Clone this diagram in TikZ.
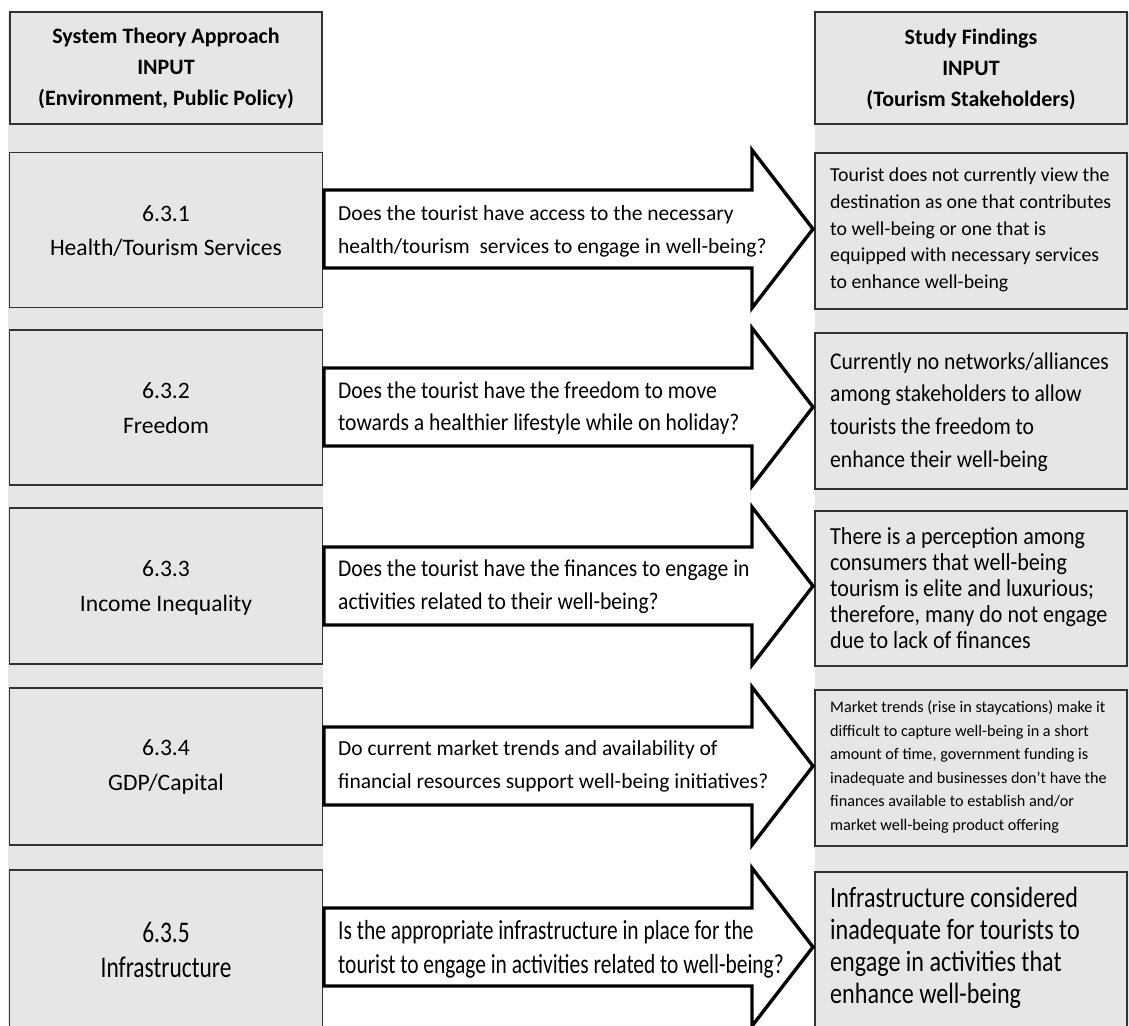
\documentclass[tikz,border=0pt]{standalone}
\usepackage{fontspec}
\setmainfont{Carlito}
\newfontfamily\semifont{Carlito}[FakeStretch=0.9]
\newfontfamily\narrowfont{Carlito}[FakeStretch=0.82]
\newfontfamily\tightfont{Carlito}[FakeStretch=0.78]
\definecolor{panel}{HTML}{E6E6E6}
\definecolor{edge}{HTML}{333333}
\newcommand{\fs}[2]{\fontsize{#1}{#2}\selectfont}

\begin{document}
\begin{tikzpicture}[x=1pt,y=-1pt,
  strip/.style={fill=panel, draw=none},
  box/.style={fill=panel, draw=edge, line width=1.4pt, inner sep=0pt},
  blockarrow/.style={fill=white, draw=black, line width=3.4pt, line join=miter},
  headtext/.style={align=center, font=\bfseries\fs{22}{31}},
  itemtext/.style={align=center, font=\fs{23.6}{34.5}},
  qtext/.style={anchor=west, align=left, inner sep=0pt},
  ftext/.style={anchor=west, align=left, inner sep=0pt}]

\useasboundingbox (0,0) rectangle (1129,1025);
\fill[white] (0,0) rectangle (1129,1025);

% grey column strips
\path[strip] (8,12) rectangle (323,1025);
\path[strip] (815,12) rectangle (1129,1025);

% column headers
\node[box, minimum width=312, minimum height=112] (hl) at (166,68) {};
\node[headtext] (hlt) at ([yshift=-1]hl.center) {System Theory Approach\\INPUT\\(Environment, Public Policy)};
\node[box, minimum width=312, minimum height=112] (hr) at (971,68) {};
\node[headtext] (hrt) at ([yshift=-1]hr.center) {Study Findings\\INPUT\\(Tourism Stakeholders)};

% left: system theory categories
\node[box, minimum width=313, minimum height=155] (l1) at (166,230) {};
\node[box, minimum width=313, minimum height=155] (l2) at (166,407.5) {};
\node[box, minimum width=313, minimum height=156] (l3) at (166,586) {};
\node[box, minimum width=313, minimum height=157] (l4) at (166,766.5) {};
\node[box, minimum width=313, minimum height=170] (l5) at (166,955) {};
\node[itemtext] (l1t) at (166,231) {6.3.1\\Health/Tourism Services};
\node[itemtext] (l2t) at (166,408) {6.3.2\\Freedom};
\node[itemtext] (l3t) at (166,588) {6.3.3\\Income Inequality};
\node[itemtext] (l4t) at (166,767) {6.3.4\\GDP/Capital};
\node[itemtext, font=\tightfont\fs{30}{35}] (l5t) at (166,950) {6.3.5\\Infrastructure};

% right: study findings
\node[box, minimum width=312, minimum height=156] (r1) at (971,231) {};
\node[box, minimum width=312, minimum height=156] (r2) at (971,411) {};
\node[box, minimum width=312, minimum height=155] (r3) at (971,588.5) {};
\node[box, minimum width=312, minimum height=156] (r4) at (971,768) {};
\node[box, minimum width=312, minimum height=170] (r5) at (971,957) {};

% block arrows from category to finding
\foreach \cy in {229,407,586,766,947}{
  \draw[blockarrow] (324,\cy-39) -- (752,\cy-39) -- (752,\cy-79) -- (813,\cy)
    -- (752,\cy+79) -- (752,\cy+39) -- (324,\cy+39) -- cycle;
}

% questions inside the arrows
\node[qtext, font=\fs{21.5}{33}] (q1) at (338,231) {Does the tourist have access to the necessary\\health/tourism\ \ services to engage in well-being?};
\node[qtext, font=\semifont\fs{24}{32.5}] (q2) at (338,408) {Does the tourist have the freedom\ to move\\towards a healthier\ lifestyle while on holiday?};
\node[qtext, font=\semifont\fs{24}{33}] (q3) at (338,587) {Does the tourist have the finances to engage in\\activities related\ to their well-being?};
\node[qtext, font=\fs{21.5}{33}] (q4) at (338,766) {Do current\ market\ trends\ and availability of\\financial resources\ support\ well-being\ initiatives?};
\node[qtext, font=\tightfont\fs{27.5}{34}] (q5) at (338,949) {Is the appropriate\ infrastructure\ in place for the\\tourist to engage in activities related to well-being?};

% findings text
\node[ftext, font=\fs{19.8}{26.8}] (f1) at (830,230) {Tourist does not currently view the\\destination as one that contributes\\to\ well-being or one that is\\equipped with necessary services\\to enhance well-being};
\node[ftext, font=\semifont\fs{24}{32.7}] (f2) at (830,412) {Currently\ no networks/alliances\\among stakeholders to allow\\tourists the freedom to\\enhance their\ well-being};
\node[ftext, font=\semifont\fs{24.5}{26.2}] (f3) at (830,588) {There is a perception\ among\\consumers\ that well-being\\tourism\ is elite and luxurious;\\therefore,\ many do not engage\\due to lack of finances};
\node[ftext, font=\fs{16.2}{23.6}] (f4) at (830,767) {Market trends (rise in staycations) make it\\difficult to capture well-being in a short\\amount of time, government funding is\\inadequate and businesses don’t have the\\finances available to establish and/or\\market well-being product offering};
\node[ftext, font=\narrowfont\fs{29.4}{32}] (f5) at (830,948) {Infrastructure\ considered\\inadequate for tourists to\\engage in activities that\\enhance well-being};
\end{tikzpicture}
\end{document}
